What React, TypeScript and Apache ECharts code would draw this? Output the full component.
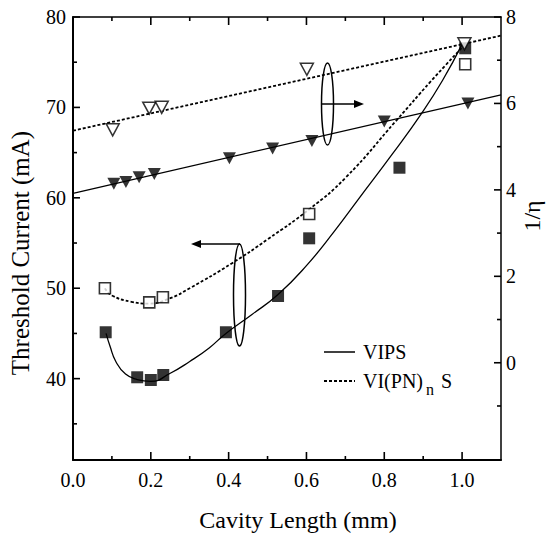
import React, { useEffect, useRef } from "react";
import * as echarts from "echarts";

// Tick values and labels
const xMajorTicks = [0, 0.2, 0.4, 0.6, 0.8, 1.0];
const xMinorTicks = [0.1, 0.3, 0.5, 0.7, 0.9];
const leftMajorTicks = [40, 50, 60, 70, 80];
const leftMinorTicks = [35, 45, 55, 65, 75];
const rightMajorTicks = [0, 2, 4, 6, 8];
const rightMinorTicks = [-1, 1, 3, 5, 7];

// Threshold current (left axis)
const vipsLength = [0.084, 0.165, 0.2, 0.232, 0.393, 0.527, 0.607, 0.839, 1.008];
const vipsThreshold = [45.13, 40.15, 39.85, 40.4, 45.13, 49.14, 55.52, 63.33, 76.54];
const vipnLength = [0.082, 0.196, 0.231, 0.607, 1.008];
const vipnThreshold = [49.99, 48.44, 49.0, 58.21, 74.77];

// 1/eta (right axis)
const vipsEffLength = [0.105, 0.136, 0.17, 0.209, 0.402, 0.513, 0.614, 0.8, 1.015];
const vipsEff = [4.14, 4.18, 4.29, 4.37, 4.73, 4.96, 5.13, 5.58, 6.0];
const vipnEffLength = [0.102, 0.196, 0.228, 0.601, 1.006];
const vipnEff = [5.39, 5.89, 5.91, 6.79, 7.38];

// Fitted curves
const vipsFitX = [0.085, 0.095, 0.11, 0.135, 0.165, 0.2, 0.25, 0.3, 0.35, 0.393, 0.46, 0.527, 0.6, 0.67, 0.738, 0.82, 0.896, 0.95, 1.0];
const vipsFitY = [45.0, 43.6, 41.9, 40.5, 39.9, 39.7, 40.6, 41.9, 43.4, 45.0, 47.1, 49.3, 52.5, 56.2, 60.1, 64.8, 69.35, 73.0, 77.0];
const vipnFitX = [0.082, 0.1, 0.15, 0.196, 0.25, 0.3, 0.41, 0.5, 0.609, 0.7, 0.832, 0.92, 1.006];
const vipnFitY = [49.99, 49.2, 48.5, 48.3, 48.9, 50.0, 52.8, 55.4, 58.8, 62.2, 68.6, 72.9, 76.9];
const vipsEffFitX = [0, 1.1];
const vipsEffFitY = [3.92, 6.2];
const vipnEffFitX = [0, 1.1];
const vipnEffFitY = [5.37, 7.57];

const FONT = "Liberation Serif";
const INK = "#000";

const zip = (a: number[], b: number[]) => a.map((v, i) => [v, b[i]]);

export default function App() {
  const ref = useRef<HTMLDivElement>(null);
  useEffect(() => {
    if (!ref.current) return;
    const chart = echarts.init(ref.current, undefined, { renderer: "svg" });

    const L = 73, R = 45, T = 17, B = 83;
    const W = 546, H = 543;
    const labelStyle = { color: INK, fontFamily: FONT, fontSize: 20 };

    const option: any = {
      animation: false,
      backgroundColor: "#fff",
      grid: { left: L, right: R, top: T, bottom: B },
      xAxis: [
        {
          type: "value", min: 0, max: 1.1, position: "bottom", splitLine: { show: false },
          axisLine: { show: true, onZero: false, lineStyle: { color: INK, width: 2 } },
          axisTick: { show: false },
          axisLabel: { ...labelStyle, show: true, margin: 10, customValues: xMajorTicks, formatter: (v: number) => v.toFixed(1) },
        },
        {
          type: "value", min: 0, max: 1.1, position: "top", splitLine: { show: false },
          axisLine: { show: true, onZero: false, lineStyle: { color: INK, width: 1.5 } },
          axisTick: { show: false }, axisLabel: { show: false },
        },
      ],
      yAxis: [
        {
          type: "value", min: 31, max: 80, position: "left", splitLine: { show: false },
          axisLine: { show: true, onZero: false, lineStyle: { color: INK, width: 2 } },
          axisTick: { show: false },
          axisLabel: { ...labelStyle, show: true, margin: 7, customValues: leftMajorTicks },
        },
        {
          type: "value", min: -2.25, max: 8, position: "right", splitLine: { show: false },
          axisLine: { show: true, onZero: false, lineStyle: { color: INK, width: 1.5 } },
          axisTick: { show: false },
          axisLabel: { ...labelStyle, show: true, margin: 5, customValues: rightMajorTicks },
        },
      ],
      series: [
        {
          type: "line", name: "VIPS fit", xAxisIndex: 0, yAxisIndex: 0,
          data: zip(vipsFitX, vipsFitY), smooth: 0.5, showSymbol: false, symbol: "none",
          lineStyle: { color: INK, width: 1.3 }, z: 2,
        },
        {
          type: "line", name: "VI(PN)nS fit", xAxisIndex: 0, yAxisIndex: 0,
          data: zip(vipnFitX, vipnFitY), smooth: 0.5, showSymbol: false, symbol: "none",
          lineStyle: { color: INK, width: 1.8, type: [3, 2] }, z: 2,
        },
        {
          type: "line", name: "VIPS eff fit", xAxisIndex: 0, yAxisIndex: 1,
          data: zip(vipsEffFitX, vipsEffFitY), showSymbol: false, symbol: "none",
          lineStyle: { color: INK, width: 1.3 }, z: 2,
        },
        {
          type: "line", name: "VI(PN)nS eff fit", xAxisIndex: 0, yAxisIndex: 1,
          data: zip(vipnEffFitX, vipnEffFitY), showSymbol: false, symbol: "none",
          lineStyle: { color: INK, width: 1.8, type: [3, 2] }, z: 2,
        },
        {
          type: "scatter", name: "VIPS Ith", xAxisIndex: 0, yAxisIndex: 0,
          data: zip(vipsLength, vipsThreshold), symbol: "rect", symbolSize: 12,
          itemStyle: { color: INK }, z: 3,
        },
        {
          type: "scatter", name: "VI(PN)nS Ith", xAxisIndex: 0, yAxisIndex: 0,
          data: zip(vipnLength, vipnThreshold), symbol: "rect", symbolSize: 11,
          itemStyle: { color: "#fff", borderColor: INK, borderWidth: 1.6 }, z: 4,
        },
        {
          type: "scatter", name: "VIPS eta", xAxisIndex: 0, yAxisIndex: 1,
          data: zip(vipsEffLength, vipsEff), symbol: "triangle", symbolRotate: 180, symbolSize: [13, 12],
          itemStyle: { color: INK }, z: 3,
        },
        {
          type: "scatter", name: "VI(PN)nS eta", xAxisIndex: 0, yAxisIndex: 1,
          data: zip(vipnEffLength, vipnEff), symbol: "triangle", symbolRotate: 180, symbolSize: [13, 12],
          itemStyle: { color: "#fff", borderColor: INK, borderWidth: 1.5 }, z: 5,
        },
      ],
    };
    chart.setOption(option);

    // Tick marks placed through the axes' own scales
    const tickStyle = { stroke: INK, lineWidth: 1.6 };
    const top = T, bottom = H - B, left = L, right = W - R;
    const tickEls: any[] = [];
    const xTick = (v: number, len: number) => {
      const px = chart.convertToPixel({ xAxisIndex: 0 }, v) as number;
      tickEls.push({ type: "line", shape: { x1: px, y1: bottom, x2: px, y2: bottom - len }, style: tickStyle, z: 20 });
      tickEls.push({ type: "line", shape: { x1: px, y1: top, x2: px, y2: top + len }, style: tickStyle, z: 20 });
    };
    const yTick = (axis: number, v: number, len: number) => {
      const py = chart.convertToPixel({ yAxisIndex: axis }, v) as number;
      if (axis === 0) tickEls.push({ type: "line", shape: { x1: left, y1: py, x2: left + len, y2: py }, style: tickStyle, z: 20 });
      else tickEls.push({ type: "line", shape: { x1: right, y1: py, x2: right - len, y2: py }, style: tickStyle, z: 20 });
    };
    xMajorTicks.forEach((v) => xTick(v, 8));
    xMinorTicks.forEach((v) => xTick(v, 4));
    leftMajorTicks.forEach((v) => yTick(0, v, 7));
    leftMinorTicks.forEach((v) => yTick(0, v, 4));
    rightMajorTicks.forEach((v) => yTick(1, v, 7));
    rightMinorTicks.forEach((v) => yTick(1, v, 4));

    const annotations: any[] = [
      { type: "text", x: 298, y: 520, style: { text: "Cavity Length (mm)", fontFamily: FONT, fontSize: 24, fill: INK, align: "center", verticalAlign: "middle" } },
      { type: "text", x: 20, y: 253, rotation: Math.PI / 2, style: { text: "Threshold Current (mA)", fontFamily: FONT, fontSize: 25, fill: INK, align: "center", verticalAlign: "middle" } },
      { type: "text", x: 532, y: 216, rotation: Math.PI / 2, style: { text: "1/η", fontFamily: FONT, fontSize: 24, fill: INK, align: "center", verticalAlign: "middle" } },
      // annotation ellipses and arrows
      { type: "ellipse", shape: { cx: 327.5, cy: 104, rx: 6, ry: 41 }, style: { fill: "none", stroke: INK, lineWidth: 1.5 }, z: 10 },
      { type: "line", shape: { x1: 322, y1: 104, x2: 356, y2: 104 }, style: { stroke: INK, lineWidth: 1.5 }, z: 10 },
      { type: "polygon", shape: { points: [[364, 104], [354, 100], [354, 108]] }, style: { fill: INK }, z: 10 },
      { type: "ellipse", shape: { cx: 239.5, cy: 295, rx: 6, ry: 51 }, style: { fill: "none", stroke: INK, lineWidth: 1.5 }, z: 10 },
      { type: "line", shape: { x1: 240, y1: 244, x2: 199, y2: 244 }, style: { stroke: INK, lineWidth: 1.5 }, z: 10 },
      { type: "polygon", shape: { points: [[191, 244], [201, 240], [201, 248]] }, style: { fill: INK }, z: 10 },
      // legend
      { type: "line", shape: { x1: 324, y1: 352, x2: 355, y2: 352 }, style: { stroke: INK, lineWidth: 1.5 }, z: 10 },
      { type: "text", x: 363, y: 352, style: { text: "VIPS", fontFamily: FONT, fontSize: 20, fill: INK, align: "left", verticalAlign: "middle" }, z: 10 },
      { type: "line", shape: { x1: 324, y1: 381, x2: 355, y2: 381 }, style: { stroke: INK, lineWidth: 1.8, lineDash: [3, 2] }, z: 10 },
      { type: "text", x: 363, y: 381, style: { text: "VI(PN)", fontFamily: FONT, fontSize: 20, fill: INK, align: "left", verticalAlign: "middle" }, z: 10 },
      { type: "text", x: 426, y: 389, style: { text: "n", fontFamily: FONT, fontSize: 16, fill: INK, align: "left", verticalAlign: "middle" }, z: 10 },
      { type: "text", x: 441, y: 381, style: { text: "S", fontFamily: FONT, fontSize: 20, fill: INK, align: "left", verticalAlign: "middle" }, z: 10 },
    ];

    chart.setOption({ graphic: [...annotations, ...tickEls] });
    return () => chart.dispose();
  }, []);
  return <div ref={ref} style={{ width: 546, height: 543, position: "absolute", left: 0, top: 0 }} />;
}
